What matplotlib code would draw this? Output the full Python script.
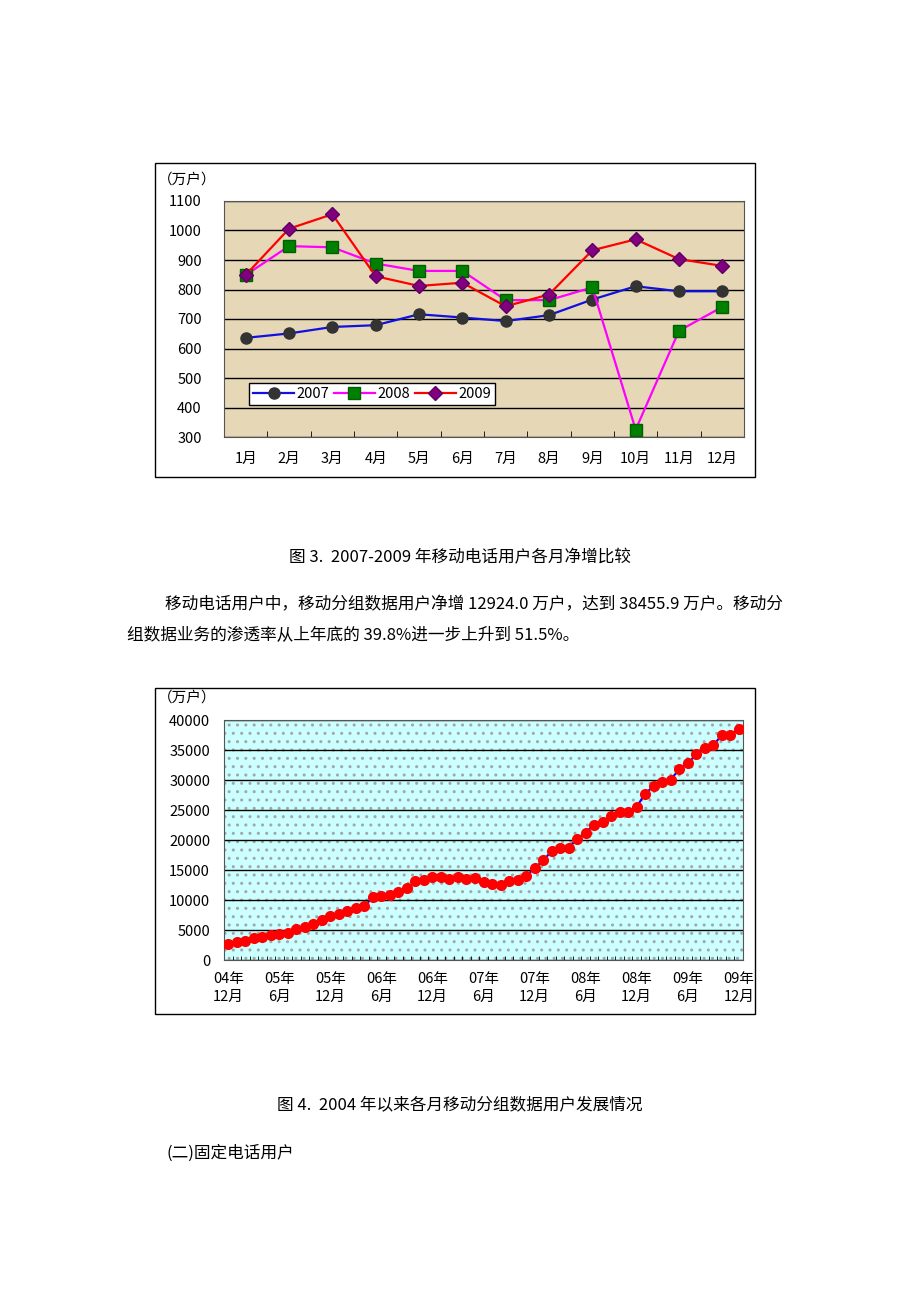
import numpy as np
import matplotlib.pyplot as plt
from matplotlib.patches import Rectangle

plt.rcParams['font.family'] = ['Noto Sans CJK SC', 'DejaVu Sans']

# 图 3 数据：各月净增（万户）
months = ['1月', '2月', '3月', '4月', '5月', '6月', '7月', '8月', '9月', '10月', '11月', '12月']
y2007 = [636, 651, 673, 679, 716, 705, 693, 713, 766, 811, 794, 794]
y2008 = [849, 947, 943, 888, 863, 863, 764, 764, 807, 325, 660, 741]
y2009 = [849, 1006, 1055, 845, 812, 823, 743, 783, 933, 970, 903, 880]

# 图 4 数据：2004年12月至2009年12月移动分组数据用户（万户）
packet_users = [2650, 3000, 3230, 3620, 3790, 4180, 4400, 4570, 5180, 5460,
                6070, 6630, 7350, 7630, 8190, 8630, 9030, 10420, 10640, 10860,
                11310, 11980, 13090, 13260, 13820, 13820, 13480, 13820, 13540, 13650,
                12980, 12700, 12480, 13090, 13260, 14040, 15270, 16600, 18110, 18660,
                18660, 20220, 21230, 22560, 23010, 23960, 24680, 24680, 25520, 27740,
                28970, 29690, 30080, 31760, 32760, 34260, 35270, 35820, 37440, 37440,
                38456]
tick_idx = [0, 6, 12, 18, 24, 30, 36, 42, 48, 54, 60]
tick_labels = ['04年\n12月', '05年\n6月', '05年\n12月', '06年\n6月', '06年\n12月',
               '07年\n6月', '07年\n12月', '08年\n6月', '08年\n12月', '09年\n6月', '09年\n12月']

W, H = 920, 1302
fig = plt.figure(figsize=(W / 100, H / 100), dpi=100)
fig.patch.set_facecolor('white')


def fx(px):
    return px / W


def fy(py):
    return 1 - py / H


def box(x0, y0, x1, y1):
    fig.add_artist(Rectangle((fx(x0), fy(y1)), fx(x1 - x0), (y1 - y0) / H,
                             transform=fig.transFigure, fill=False,
                             edgecolor='black', lw=1))


def fig_axes(x0, y0, x1, y1):
    return fig.add_axes([fx(x0), fy(y1), fx(x1 - x0), (y1 - y0) / H])


# ---------- 图 3 ----------
box(155, 163, 755, 477)
ax1 = fig_axes(224, 201, 744, 437)
ax1.set_facecolor('#E6D8B6')
x = np.arange(len(months))
ax1.plot(x, y2007, color='#1010E0', lw=1.6, marker='o', ms=8,
         mfc='#333333', mec='#333333', label='2007')
ax1.plot(x, y2008, color='#FF00FF', lw=1.6, marker='s', ms=8,
         mfc='#008000', mec='#006000', label='2008')
ax1.plot(x, y2009, color='#FF0000', lw=1.6, marker='D', ms=7,
         mfc='#800080', mec='#600060', label='2009')
ax1.set_xlim(-0.5, 11.5)
ax1.set_ylim(300, 1100)
ax1.set_yticks(np.arange(300, 1101, 100))
ax1.yaxis.grid(True, color='black', lw=1)
ax1.set_axisbelow(True)
ax1.set_xticks(x)
ax1.set_xticklabels(months, fontsize=10.5)
ax1.set_xticks(np.arange(0.5, 11, 1), minor=True)
ax1.tick_params(axis='x', which='major', length=0, pad=11)
ax1.tick_params(axis='x', which='minor', length=4, direction='in')
ax1.tick_params(axis='y', length=0, pad=16, labelsize=10.5)
for s in ax1.spines.values():
    s.set_color('#555555')
leg = ax1.legend(loc='lower left', bbox_to_anchor=(0.035, 0.106, 0.5, 0.097),
                 mode='expand', ncol=3, fontsize=10.5, frameon=True, fancybox=False,
                 borderpad=0.25, handlelength=2.8, handletextpad=0.2)
leg.get_frame().set_edgecolor('black')
leg.get_frame().set_facecolor('white')
leg.get_frame().set_alpha(1)
fig.text(fx(158), fy(180), '（万户）', fontsize=10.5, ha='left', va='center')

# ---------- 图 4 ----------
box(155, 688, 755, 1014)
ax2 = fig_axes(224, 720, 743, 960)
ax2.set_facecolor('#CCFFFF')
ax2.add_patch(Rectangle((0, 0), 1, 1, transform=ax2.transAxes, facecolor='#CCFFFF',
                        edgecolor='#A0A8A8', lw=0, hatch='..', zorder=0))
xi = np.arange(len(packet_users))
ax2.plot(xi, packet_users, color='#0000FF', lw=1.5, marker='o', ms=7,
         mfc='#FF0000', mec='#FF0000', zorder=3)
ax2.set_xlim(-0.5, len(packet_users) - 0.5)
ax2.set_ylim(0, 40000)
ax2.set_yticks(np.arange(0, 40001, 5000))
ax2.yaxis.grid(True, color='black', lw=1)
ax2.set_axisbelow(True)
ax2.set_xticks(tick_idx)
ax2.set_xticklabels(tick_labels, fontsize=10.5, linespacing=1.35)
ax2.set_xticks(np.arange(0.5, len(packet_users) - 1, 1), minor=True)
ax2.tick_params(axis='x', which='major', length=0, pad=9)
ax2.tick_params(axis='x', which='minor', length=3, direction='in')
ax2.tick_params(axis='y', length=0, pad=10, labelsize=10.5)
for s in ax2.spines.values():
    s.set_color('#555555')
fig.text(fx(158), fy(698), '（万户）', fontsize=10.5, ha='left', va='center')

# ---------- 正文 ----------
fig.text(0.5, fy(558), '图 3.  2007-2009 年移动电话用户各月净增比较',
         fontsize=12, ha='center', va='center')
fig.text(fx(165), fy(605),
         '移动电话用户中，移动分组数据用户净增 12924.0 万户，达到 38455.9 万户。移动分',
         fontsize=12, ha='left', va='center')
fig.text(fx(127), fy(636), '组数据业务的渗透率从上年底的 39.8%进一步上升到 51.5%。',
         fontsize=12, ha='left', va='center')
fig.text(0.5, fy(1105), '图 4.  2004 年以来各月移动分组数据用户发展情况',
         fontsize=12, ha='center', va='center')
fig.text(fx(167), fy(1153), '(二)固定电话用户', fontsize=12, ha='left', va='center')

fig.savefig('out.png', dpi=100)
